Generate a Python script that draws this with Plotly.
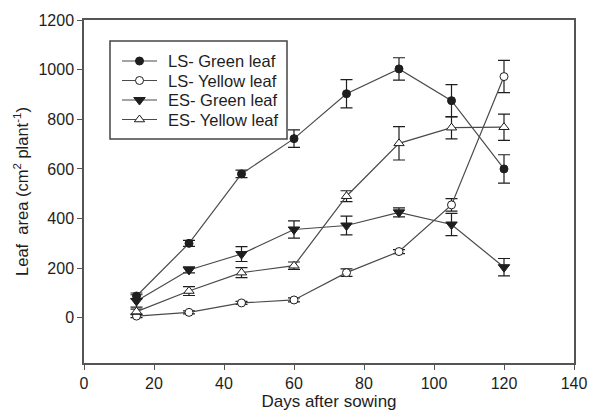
import plotly.graph_objects as go

days = [15, 30, 45, 60, 75, 90, 105, 120]

ls_green = [88, 300, 580, 722, 903, 1003, 875, 600]
ls_green_err = [12, 12, 15, 35, 57, 45, 65, 57]

ls_yellow = [7, 22, 60, 72, 182, 267, 455, 972]
ls_yellow_err = [6, 6, 6, 8, 15, 8, 25, 65]

es_green = [68, 193, 257, 356, 372, 425, 376, 204]
es_green_err = [25, 12, 30, 35, 38, 18, 45, 35]

es_yellow = [25, 108, 182, 210, 490, 703, 766, 768]
es_yellow_err = [10, 18, 20, 15, 22, 67, 45, 53]

series_names = ["LS- Green leaf", "LS- Yellow leaf", "ES- Green leaf", "ES- Yellow leaf"]
line_col = "#4a4a4a"
ink = "#1e1e1e"
font_fam = "Liberation Sans, Arial, sans-serif"

# symbol, fill colour, size
styles = [
    ("circle", ink, 8),
    ("circle", "white", 8),
    ("triangle-down", ink, 10),
    ("triangle-up", "white", 9),
]

# plot area in pixels (left, right, top, bottom)
PL, PR, PT, PB = 84, 574, 20, 363
W, H = 589, 411

fig = go.Figure()
for name, vals, errs, (sym, fill, size) in zip(
    series_names,
    [ls_green, ls_yellow, es_green, es_yellow],
    [ls_green_err, ls_yellow_err, es_green_err, es_yellow_err],
    styles,
):
    fig.add_trace(go.Scatter(
        x=days, y=vals, name=name, mode="lines+markers", showlegend=False,
        line=dict(color=line_col, width=1.2),
        marker=dict(symbol=sym, size=size, color=fill, line=dict(color=ink, width=1)),
        error_y=dict(type="data", array=errs, visible=True, color=ink, thickness=1.2, width=6),
    ))

# boxed key in the upper left, laid out on a pixel-scaled overlay axis
key_box = (110, 41, 287, 139)
key_rows = [61, 80.5, 100, 119.5]
key_line = (122, 157)
key_text_x = 166
for name, ry, (sym, fill, size) in zip(series_names, key_rows, styles):
    fig.add_trace(go.Scatter(
        x=list(key_line), y=[ry, ry], xaxis="x2", yaxis="y2", mode="lines",
        line=dict(color=line_col, width=1.2), showlegend=False, hoverinfo="skip",
    ))
    fig.add_trace(go.Scatter(
        x=[sum(key_line) / 2], y=[ry], xaxis="x2", yaxis="y2", mode="markers",
        marker=dict(symbol=sym, size=size, color=fill, line=dict(color=ink, width=1)),
        showlegend=False, hoverinfo="skip",
    ))
    fig.add_annotation(
        x=key_text_x, y=ry, xref="x2", yref="y2", text=name, showarrow=False,
        xanchor="left", yanchor="middle", font=dict(family=font_fam, size=16.5, color=ink),
    )
fig.add_shape(type="rect", xref="x2", yref="y2",
              x0=key_box[0], y0=key_box[1], x1=key_box[2], y1=key_box[3],
              line=dict(color="#444", width=1.5), fillcolor="rgba(0,0,0,0)", layer="above")

axis_common = dict(
    showline=True, linecolor="#555", linewidth=1.5, mirror=True,
    ticks="outside", ticklen=5, tickcolor="#555", tickwidth=1.2,
    showgrid=False, zeroline=False, automargin=False,
    tickfont=dict(family=font_fam, size=16, color=ink),
)

fig.update_layout(
    width=W, height=H,
    margin=dict(l=PL, r=W - PR, t=PT, b=H - PB),
    paper_bgcolor="white", plot_bgcolor="white",
    font=dict(family=font_fam, color=ink),
    xaxis=dict(range=[0, 140], tickvals=[0, 20, 40, 60, 80, 100, 120, 140],
               title=dict(text="Days after sowing", font=dict(size=17), standoff=8),
               **axis_common),
    yaxis=dict(range=[-182, 1200], tickvals=[0, 200, 400, 600, 800, 1000, 1200],
               title=dict(text="Leaf  area (cm<sup>2</sup> plant<sup>-1</sup>)", font=dict(size=16.5), standoff=6),
               **axis_common),
    xaxis2=dict(range=[PL, PR], overlaying="x", visible=False, fixedrange=True),
    yaxis2=dict(range=[PB, PT], overlaying="y", visible=False, fixedrange=True),
    showlegend=False,
)

fig.write_html("out.html")
